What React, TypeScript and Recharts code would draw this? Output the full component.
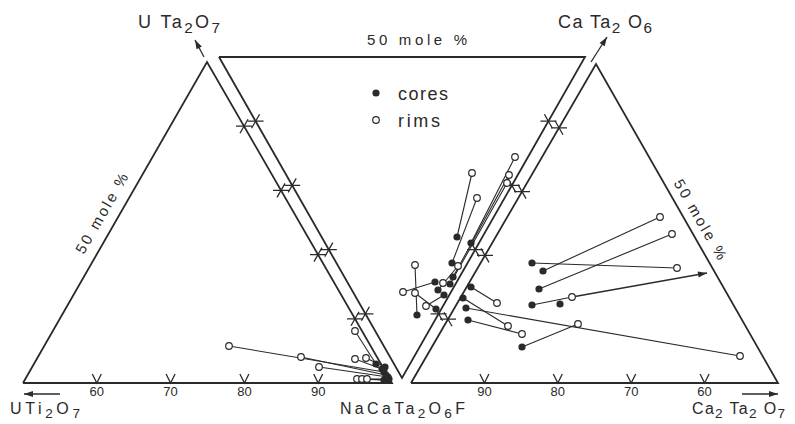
import { ScatterChart, Scatter, XAxis, YAxis } from 'recharts';

type Pt = { x: number; y: number };

const W = 795;
const H = 424;
const INK = '#2a2a2a';
const FONT = '"Liberation Sans", Arial, sans-serif';

// corners of the three sub-triangles (figure units, y counted from the top)
const leftTriangle: Pt[] = [
  { x: 23, y: 383 }, // toward UTi2O7 (50 %)
  { x: 207, y: 62 }, // toward UTa2O7 (50 %)
  { x: 392, y: 383 }, // NaCaTa2O6F
];
const middleTriangle: Pt[] = [
  { x: 219, y: 57 },
  { x: 585, y: 57 },
  { x: 402, y: 378 },
];
const rightTriangle: Pt[] = [
  { x: 411, y: 383 }, // NaCaTa2O6F
  { x: 596, y: 64 }, // toward CaTa2O6 (50 %)
  { x: 778, y: 383 }, // toward Ca2Ta2O7 (50 %)
];

const scaleTicks = [60, 70, 80, 90];

// tie lines core -> rim: [coreX, coreY, rimX, rimY]
const leftTies = [
  [384, 372, 229, 346],
  [386, 375, 301, 357],
  [388, 377, 319, 367],
  [376, 364, 355, 331],
  [382, 369, 355, 359],
  [385, 367, 366, 358],
  [384, 380, 357, 379],
  [387, 380, 362, 379],
  [389, 379, 367, 379],
];
const centralTies = [
  [457, 237, 472, 173],
  [452, 263, 477, 198],
  [471, 243, 515, 157],
  [453, 277, 509, 175],
  [450, 284, 507, 183],
  [435, 282, 403, 292],
  [417, 315, 415, 265],
  [444, 295, 426, 306],
  [438, 290, 458, 266],
  [436, 309, 415, 293],
];
const rightTies = [
  [543, 271, 660, 217],
  [539, 289, 672, 234],
  [532, 263, 677, 268],
  [532, 305, 572, 297],
  [522, 347, 578, 324],
  [466, 308, 740, 356],
  [468, 320, 522, 334],
  [471, 287, 497, 303],
  [463, 298, 508, 326],
];
const loneCores = [[560, 304]];
const loneRims = [[443, 283]];

// arrows: [fromX, fromY, toX, toY]
const arrows = [
  [572, 297, 707, 273],
  [204, 57, 195, 40],
  [591, 62, 607, 37],
  [60, 394, 24, 394],
  [742, 394, 778, 394],
];

const along = (a: Pt, b: Pt, v: number): Pt => {
  const t = (100 - v) / 50;
  return { x: a.x + (b.x - a.x) * t, y: a.y + (b.y - a.y) * t };
};

const scaleEdges = [
  { from: leftTriangle[2], to: leftTriangle[0], kind: 'base' },
  { from: rightTriangle[0], to: rightTriangle[2], kind: 'base' },
  { from: leftTriangle[2], to: leftTriangle[1], kind: 'fall' },
  { from: middleTriangle[2], to: middleTriangle[0], kind: 'fall' },
  { from: middleTriangle[2], to: middleTriangle[1], kind: 'rise' },
  { from: rightTriangle[0], to: rightTriangle[1], kind: 'rise' },
];

const Empty = () => <g />;

const Core = (p: any) => <circle cx={p.cx} cy={p.cy} r={3.6} fill={INK} />;
const Rim = (p: any) => (
  <circle cx={p.cx} cy={p.cy} r={3.3} fill="#fff" stroke={INK} strokeWidth={1.2} />
);

const TickMark = (p: any) => {
  const { cx, cy } = p;
  const kind = p.payload.kind;
  if (kind === 'base') {
    return (
      <path
        d={`M${cx - 4.5},${cy - 9}L${cx},${cy}L${cx + 4.5},${cy - 9}`}
        fill="none"
        stroke={INK}
        strokeWidth={1.3}
      />
    );
  }
  const s = kind === 'fall' ? -1 : 1;
  return (
    <path
      d={`M${cx - 8},${cy}H${cx + 8}M${cx - 4},${cy - s * 7}L${cx + 4},${cy + s * 7}`}
      fill="none"
      stroke={INK}
      strokeWidth={1.3}
    />
  );
};

const ArrowHead = (p: any) => {
  const { cx, cy, payload } = p;
  const a = Math.atan2(payload.dy, payload.dx);
  const L = 9;
  const w = 3;
  const bx = cx - L * Math.cos(a);
  const by = cy - L * Math.sin(a);
  const px = -Math.sin(a) * w;
  const py = Math.cos(a) * w;
  return <path d={`M${cx},${cy}L${bx + px},${by + py}L${bx - px},${by - py}Z`} fill={INK} />;
};

const Words = (p: any) => {
  const { cx, cy, payload: d } = p;
  let shift = 0;
  return (
    <text
      x={cx}
      y={cy}
      fill={INK}
      fontFamily={FONT}
      fontSize={d.size}
      textAnchor={d.anchor ?? 'start'}
      dominantBaseline={d.rotate ? 'central' : undefined}
      transform={d.rotate ? `rotate(${d.rotate} ${cx} ${cy})` : undefined}
      textLength={d.len}
      lengthAdjust="spacing"
    >
      {d.parts.map(([t, sub]: [string, boolean], i: number) => {
        const target = sub ? d.size * 0.26 : 0;
        const dy = target - shift;
        shift = target;
        return (
          <tspan key={i} dy={dy} fontSize={sub ? d.size * 0.85 : d.size}>
            {t}
          </tspan>
        );
      })}
    </text>
  );
};

const pt = (x: number, y: number) => ({ x, y });

export default function App() {
  const ticks = scaleEdges.flatMap((e) =>
    scaleTicks.map((v) => ({ ...along(e.from, e.to, v), kind: e.kind, v })),
  );
  const tickLabels = ticks
    .filter((t) => t.kind === 'base')
    .map((t) => ({ x: t.x, y: t.y + 13, parts: [[String(t.v), false]], size: 13, anchor: 'middle' }));

  const labels = [
    { x: 138, y: 28, size: 18, len: 82, parts: [['U Ta', false], ['2', true], ['O', false], ['7', true]] },
    { x: 558, y: 28, size: 18, len: 94, parts: [['Ca Ta', false], ['2', true], [' O', false], ['6', true]] },
    { x: 367, y: 45, size: 15, len: 100, parts: [['50 mole %', false]] },
    { x: 398, y: 100, size: 18, len: 50, parts: [['cores', false]] },
    { x: 398, y: 127, size: 18, len: 42, parts: [['rims', false]] },
    { x: 101, y: 213, size: 15, len: 90, anchor: 'middle', rotate: -60, parts: [['50 mole %', false]] },
    { x: 701, y: 219, size: 15, len: 90, anchor: 'middle', rotate: 60, parts: [['50 mole %', false]] },
    { x: 10, y: 414, size: 16, len: 70, parts: [['UTi', false], ['2', true], ['O', false], ['7', true]] },
    { x: 340, y: 414, size: 16, len: 125, parts: [['NaCaTa', false], ['2', true], ['O', false], ['6', true], ['F', false]] },
    { x: 692, y: 414, size: 16, len: 93, parts: [['Ca', false], ['2', true], [' Ta', false], ['2', true], [' O', false], ['7', true]] },
    ...tickLabels,
  ];

  const ties = [...leftTies, ...centralTies, ...rightTies];
  const cores = [...ties.map((t) => pt(t[0], t[1])), ...loneCores.map((c) => pt(c[0], c[1]))];
  const rims = [...ties.map((t) => pt(t[2], t[3])), ...loneRims.map((r) => pt(r[0], r[1]))];
  const heads = arrows.map((a) => ({ x: a[2], y: a[3], dx: a[2] - a[0], dy: a[3] - a[1] }));

  return (
    <div style={{ position: 'absolute', left: 0, top: 0, background: '#fff' }}>
      <ScatterChart width={W} height={H} margin={{ top: 0, right: 0, bottom: 0, left: 0 }}>
        <XAxis type="number" dataKey="x" domain={[0, W]} hide allowDataOverflow />
        <YAxis type="number" dataKey="y" domain={[0, H]} reversed hide allowDataOverflow />

        {[leftTriangle, middleTriangle, rightTriangle].map((tri, i) => (
          <Scatter
            key={`tri${i}`}
            data={[...tri, tri[0]]}
            line={{ stroke: INK, strokeWidth: 1.8, strokeLinejoin: 'miter' }}
            shape={Empty}
            isAnimationActive={false}
          />
        ))}

        <Scatter data={ticks} shape={TickMark} isAnimationActive={false} />

        {ties.map((t, i) => (
          <Scatter
            key={`tie${i}`}
            data={[pt(t[0], t[1]), pt(t[2], t[3])]}
            line={{ stroke: INK, strokeWidth: 1.1 }}
            shape={Empty}
            isAnimationActive={false}
          />
        ))}

        {arrows.map((a, i) => (
          <Scatter
            key={`arrow${i}`}
            data={[pt(a[0], a[1]), pt(a[2], a[3])]}
            line={{ stroke: INK, strokeWidth: 1.3 }}
            shape={Empty}
            isAnimationActive={false}
          />
        ))}
        <Scatter data={heads} shape={ArrowHead} isAnimationActive={false} />

        <Scatter data={cores} shape={Core} isAnimationActive={false} />
        <Scatter data={rims} shape={Rim} isAnimationActive={false} />

        {/* legend markers */}
        <Scatter data={[pt(376, 93)]} shape={Core} isAnimationActive={false} />
        <Scatter data={[pt(376, 120)]} shape={Rim} isAnimationActive={false} />

        <Scatter data={labels} shape={Words} isAnimationActive={false} />
      </ScatterChart>
    </div>
  );
}
